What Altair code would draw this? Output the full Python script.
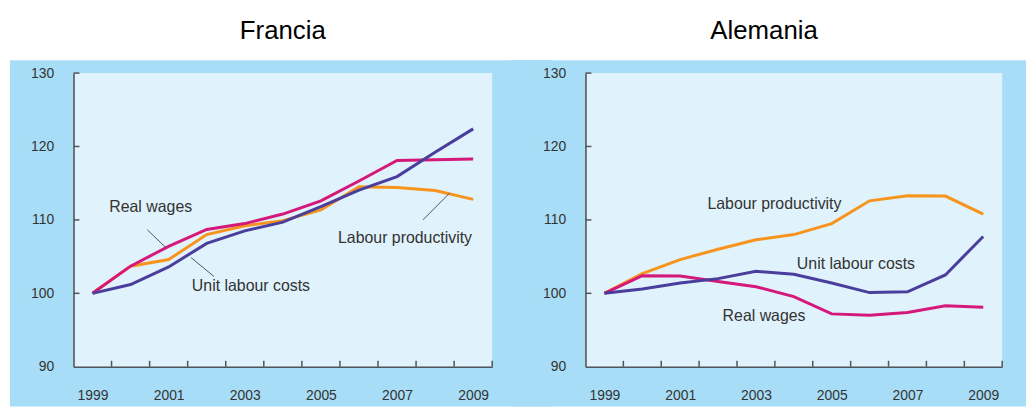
import altair as alt
import pandas as pd

# ---------------- data ----------------
years = list(range(1999, 2010))
band_edges = [1998.5 + i for i in range(12)]
y_ticks = [90, 100, 110, 120, 130]

series_names = ["Labour productivity", "Real wages", "Unit labour costs"]

fr_lp = [100, 103.7, 104.6, 108.0, 109.2, 109.9, 111.35, 114.5, 114.4, 114.0, 112.8]
fr_rw = [100, 103.7, 106.4, 108.7, 109.5, 110.8, 112.6, 115.3, 118.1, 118.2, 118.3]
fr_ulc = [100, 101.2, 103.6, 106.8, 108.5, 109.7, 111.8, 114.05, 115.9, 119.2, 122.4]

de_lp = [100, 102.7, 104.6, 106.0, 107.3, 108.0, 109.5, 112.6, 113.3, 113.25, 110.8]
de_rw = [100, 102.4, 102.35, 101.6, 100.9, 99.55, 97.2, 97.0, 97.4, 98.3, 98.1]
de_ulc = [100, 100.6, 101.4, 102.0, 103.0, 102.6, 101.4, 100.1, 100.2, 102.5, 107.75]

# label anchors (year, index value)
fr_lab_text = ["Real wages", "Unit labour costs", "Labour productivity"]
fr_lab_x = [1999.44, 2001.61, 2005.45]
fr_lab_y = [111.76, 100.95, 107.57]
fr_lead_x = [2000.44, 2001.59, 2007.68]
fr_lead_y = [108.65, 104.86, 110.0]
fr_lead_x2 = [2000.93, 2002.19, 2008.38]
fr_lead_y2 = [106.22, 102.3, 113.65]

de_lab_text = ["Labour productivity", "Unit labour costs", "Real wages"]
de_lab_x = [2001.72, 2004.08, 2002.12]
de_lab_y = [112.16, 104.05, 96.9]

# ---------------- styles ----------------
FONT = "Liberation Sans"
OUTER = "#a8ddf7"
INNER = "#e0f2fc"
AXC = "#50555a"
COLORS = {"Labour productivity": "#f7941d", "Real wages": "#d5197a", "Unit labour costs": "#4a3e9c"}


def panel(title, lp, rw, ulc, lab_text, lab_x, lab_y, lead=None, w=422, h=296,
          rect_l=64, rect_r=18, title_dx=0):
    xs = alt.Scale(domain=[band_edges[0], band_edges[-1]], nice=False, zero=False)
    ys = alt.Scale(domain=[90, 130], nice=False, zero=False)
    one = pd.DataFrame({"a": [0]})

    x_axis = alt.Axis(values=band_edges, ticks=False, grid=False, title=None,
                      labelExpr="(datum.value + 0.5) % 2 == 1 ? toString(datum.value + 0.5) : ''",
                      labelOffset=w / 22, labelPadding=22, labelOverlap=False,
                      labelFlush=False, labelFontSize=14, labelFont=FONT,
                      labelColor="#333333", domainColor=AXC, domainWidth=1.6, zindex=1)
    y_axis = alt.Axis(values=y_ticks, ticks=False, grid=False, title=None,
                      labelPadding=20, labelFontSize=14, labelFont=FONT,
                      labelColor="#333333", domainColor=AXC, domainWidth=1.6, zindex=1)

    def X(field):
        return alt.X(field, scale=xs, axis=x_axis)

    def Y(field):
        return alt.Y(field, scale=ys, axis=y_axis)

    outer = alt.Chart(one).mark_rect(color=OUTER).encode(
        x=alt.value(-rect_l), x2=alt.value(w + rect_r),
        y=alt.value(-13), y2=alt.value(h + 40))
    inner = alt.Chart(one).mark_rect(color=INNER).encode(
        x=alt.value(0), x2=alt.value(w), y=alt.value(0), y2=alt.value(h))

    layers = [outer, inner]
    data_by = {"Labour productivity": lp, "Real wages": rw, "Unit labour costs": ulc}
    for name in series_names:
        df = pd.DataFrame({"year": years, "value": data_by[name]})
        layers.append(alt.Chart(df).mark_line(strokeWidth=3, color=COLORS[name]).encode(
            x=X("year:Q"), y=Y("value:Q")))

    xt = pd.DataFrame({"b": band_edges[1:]})
    layers.append(alt.Chart(xt).mark_rule(color=AXC, strokeWidth=1.5).encode(
        x=X("b:Q"), y=alt.value(h), y2=alt.value(h - 6)))
    yt = pd.DataFrame({"v": y_ticks[1:]})
    layers.append(alt.Chart(yt).mark_rule(color=AXC, strokeWidth=1.5).encode(
        y=Y("v:Q"), x=alt.value(0), x2=alt.value(6)))

    if lead is not None:
        ld = pd.DataFrame({"x": lead[0], "y": lead[1], "x2": lead[2], "y2": lead[3]})
        layers.append(alt.Chart(ld).mark_rule(color="#555555", strokeWidth=1).encode(
            x=X("x:Q"), y=Y("y:Q"), x2="x2:Q", y2="y2:Q"))

    tdf = pd.DataFrame({"t": lab_text, "x": lab_x, "y": lab_y})
    layers.append(alt.Chart(tdf).mark_text(align="left", baseline="middle", font=FONT,
                                           fontSize=16, color="#333333").encode(
        x=X("x:Q"), y=Y("y:Q"), text="t:N"))

    return alt.layer(*layers).properties(
        width=w, height=h,
        title=alt.TitleParams(title, fontSize=26, font=FONT, fontWeight="normal",
                              color="#000000", anchor="middle", frame="group",
                              offset=16, dx=title_dx))


left = panel("Francia", fr_lp, fr_rw, fr_ulc, fr_lab_text, fr_lab_x, fr_lab_y,
             lead=(fr_lead_x, fr_lead_y, fr_lead_x2, fr_lead_y2), w=422, h=296,
             rect_l=64, rect_r=60)
right = panel("Alemania", de_lp, de_rw, de_ulc, de_lab_text, de_lab_x, de_lab_y,
              w=420, h=296, rect_l=76, rect_r=24, title_dx=-30)

chart = alt.hconcat(left, right, spacing=94, bounds="flush").properties(
    padding={"left": 2, "top": 9, "right": 0, "bottom": 0},
    background="white",
).configure_view(stroke=None).configure_axis(zindex=1)

chart.save("out.html", embed_options={"renderer": "svg", "actions": False})
